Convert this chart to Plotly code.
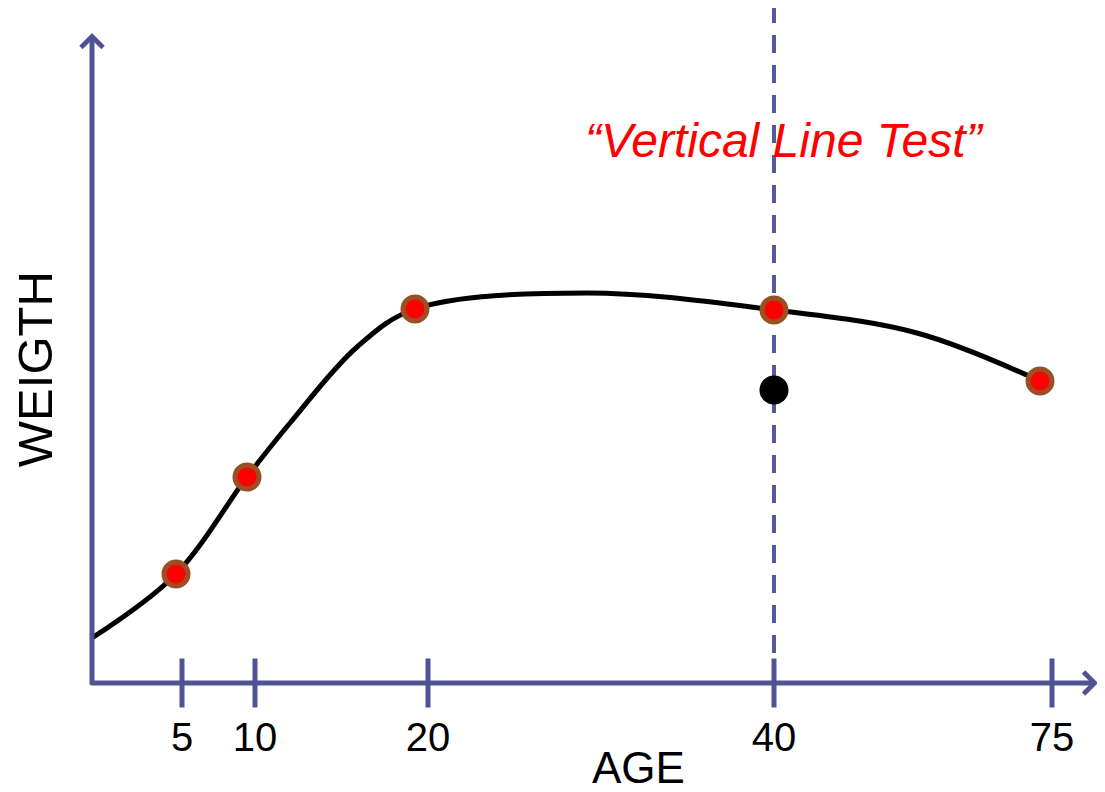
import plotly.graph_objects as go

# ---- data (positions in chart units; axis origin at 0,0) ----
age_labels = ["5", "10", "20", "40", "75"]
age_tick_pos = [9.0, 16.3, 33.6, 68.2, 96.0]

# highlighted data points (age 5, 10, 20, 40, 75)
point_x = [8.4, 15.5, 32.3, 68.2, 94.8]
point_y = [10.9, 20.6, 37.4, 37.3, 30.2]

# smooth weight-vs-age curve
curve_x = [0.0, 8.4, 15.5, 19.8, 26.5, 32.3, 49.5, 68.2, 82.5, 94.8]
curve_y = [4.5, 10.9, 20.6, 26.0, 33.6, 37.4, 39.0, 37.3, 35.0, 30.2]

# second value at age 40 (fails the vertical line test)
extra_x = [68.2]
extra_y = [29.3]

test_x = 68.2  # age 40 position

AXIS_COLOR = "#4f5295"
FONT = "Liberation Sans, Arial, sans-serif"

fig = go.Figure()

fig.add_vline(x=test_x, line=dict(color="#545a99", width=4, dash="18px,12px"), layer="below")

# tick marks crossing the x-axis
fig.add_trace(go.Scatter(
    x=age_tick_pos, y=[0] * len(age_tick_pos), mode="markers",
    marker=dict(symbol="line-ns", size=35, line=dict(width=5, color=AXIS_COLOR)),
    cliponaxis=False, hoverinfo="skip", showlegend=False))

fig.add_trace(go.Scatter(
    x=curve_x, y=curve_y, mode="lines",
    line=dict(color="black", width=5, shape="spline", smoothing=1.0),
    cliponaxis=False, showlegend=False))

fig.add_trace(go.Scatter(
    x=point_x, y=point_y, mode="markers",
    marker=dict(size=24, color="#ff0000", line=dict(color="#9b4f25", width=5)),
    cliponaxis=False, showlegend=False))

fig.add_trace(go.Scatter(
    x=extra_x, y=extra_y, mode="markers",
    marker=dict(size=29, color="black"),
    cliponaxis=False, showlegend=False))

# axes with arrowheads
fig.add_annotation(x=100.6, y=0, ax=-0.3, ay=0, xref="x", yref="y", axref="x", ayref="y",
                   text="", showarrow=True, arrowhead=4, arrowsize=0.85, arrowwidth=5,
                   arrowcolor=AXIS_COLOR)
fig.add_annotation(x=0, y=65.0, ax=0, ay=-0.3, xref="x", yref="y", axref="x", ayref="y",
                   text="", showarrow=True, arrowhead=4, arrowsize=0.85, arrowwidth=5,
                   arrowcolor=AXIS_COLOR)

# text
fig.add_annotation(x=test_x, y=0.804, xref="x", yref="paper", xshift=10,
                   text="“Vertical Line Test”", showarrow=False, yanchor="middle",
                   font=dict(family=FONT, size=48, color="#ff0000", style="italic"))
fig.add_annotation(x=0.539, y=0, xref="paper", yref="paper", yshift=-84,
                   text="AGE", showarrow=False, yanchor="middle",
                   font=dict(family=FONT, size=44, color="black"))
fig.add_annotation(x=0, y=0.465, xref="paper", yref="paper", xshift=-57,
                   text="WEIGTH", showarrow=False, textangle=-90, xanchor="center",
                   yanchor="middle",
                   font=dict(family=FONT, size=49, color="black"))

fig.update_layout(
    width=1097, height=784,
    margin=dict(l=84, r=0, t=0, b=109),
    paper_bgcolor="white", plot_bgcolor="white",
    showlegend=False,
    xaxis=dict(range=[0, 101.3], tickvals=age_tick_pos, ticktext=age_labels,
               ticks="outside", ticklen=19, tickcolor="rgba(0,0,0,0)",
               tickfont=dict(family=FONT, size=40, color="black"),
               showgrid=False, zeroline=False, showline=False, fixedrange=True),
    yaxis=dict(range=[0, 67.5], showticklabels=False, ticks="",
               showgrid=False, zeroline=False, showline=False, fixedrange=True),
)

fig.write_html("out.html")
